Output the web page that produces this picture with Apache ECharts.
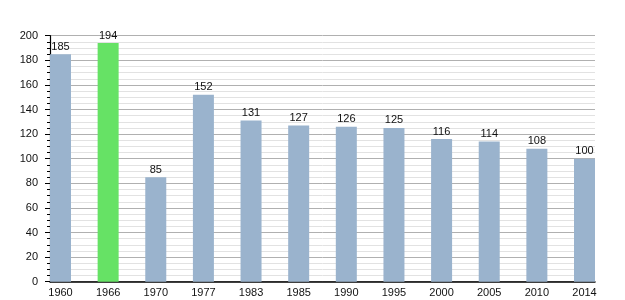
<!DOCTYPE html>
<html><head><meta charset="utf-8">
<script src="https://cdn.jsdelivr.net/npm/echarts@6/dist/echarts.min.js"></script>
<style>html,body{margin:0;padding:0;background:#fff}#c{width:625px;height:300px}</style>
</head><body><div id="c"></div>
<script>
var years = ["1960","1966","1970","1977","1983","1985","1990","1995","2000","2005","2010","2014"];
var values = [185,194,85,152,131,127,126,125,116,114,108,100];
var highlightIndex = 1;
var yTicks = {min:0, max:200, interval:20};

var chart = echarts.init(document.getElementById('c'));
var plotL = 50, plotR = 595, plotT = 35.7, plotB = 281.7;
var step = (plotR - plotL - 21) / 11;
var pad = (step - 21) / 2;
var txt = {fontFamily:'Liberation Sans, Arial, sans-serif', fontSize:11, color:'#111'};
chart.setOption({
  animation:false,
  grid:[
    {left:plotL, right:625-plotR, top:plotT, bottom:300-plotB},
    {left:plotL-pad, right:625-plotR-pad, top:plotT, bottom:300-plotB}
  ],
  xAxis:[
    {gridIndex:0, type:'value', min:0, max:1, axisLabel:{show:false}, axisTick:{show:false}, splitLine:{show:false},
     axisLine:{show:true, lineStyle:{color:'#000', width:1.5}}},
    {gridIndex:1, type:'category', data:years, boundaryGap:true, axisLine:{show:false}, axisTick:{show:false},
     axisLabel:Object.assign({margin:6, interval:0}, txt)}
  ],
  yAxis:[
    {gridIndex:0, type:'value', min:yTicks.min, max:yTicks.max, interval:yTicks.interval,
     axisLine:{show:true, lineStyle:{color:'#000', width:1.2}},
     axisTick:{show:true, length:5, lineStyle:{color:'#000'}},
     minorTick:{show:true, splitNumber:4, length:3, lineStyle:{color:'#000'}},
     splitLine:{show:true, lineStyle:{color:'#b0b0b0', width:1}},
     minorSplitLine:{show:true, lineStyle:{color:'#e2e2e2', width:1}},
     axisLabel:Object.assign({margin:12}, txt)},
    {gridIndex:1, type:'value', min:yTicks.min, max:yTicks.max, show:false, splitLine:{show:false}}
  ],
  series:[{
    type:'bar', xAxisIndex:1, yAxisIndex:1, barWidth:21,
    data: values.map(function(v,i){return {value:v, itemStyle:{color: i===highlightIndex ? '#66e265' : '#9ab3cd'}};}),
    label:Object.assign({show:true, position:'top', distance:2}, txt)
  }]
});
</script></body></html>
